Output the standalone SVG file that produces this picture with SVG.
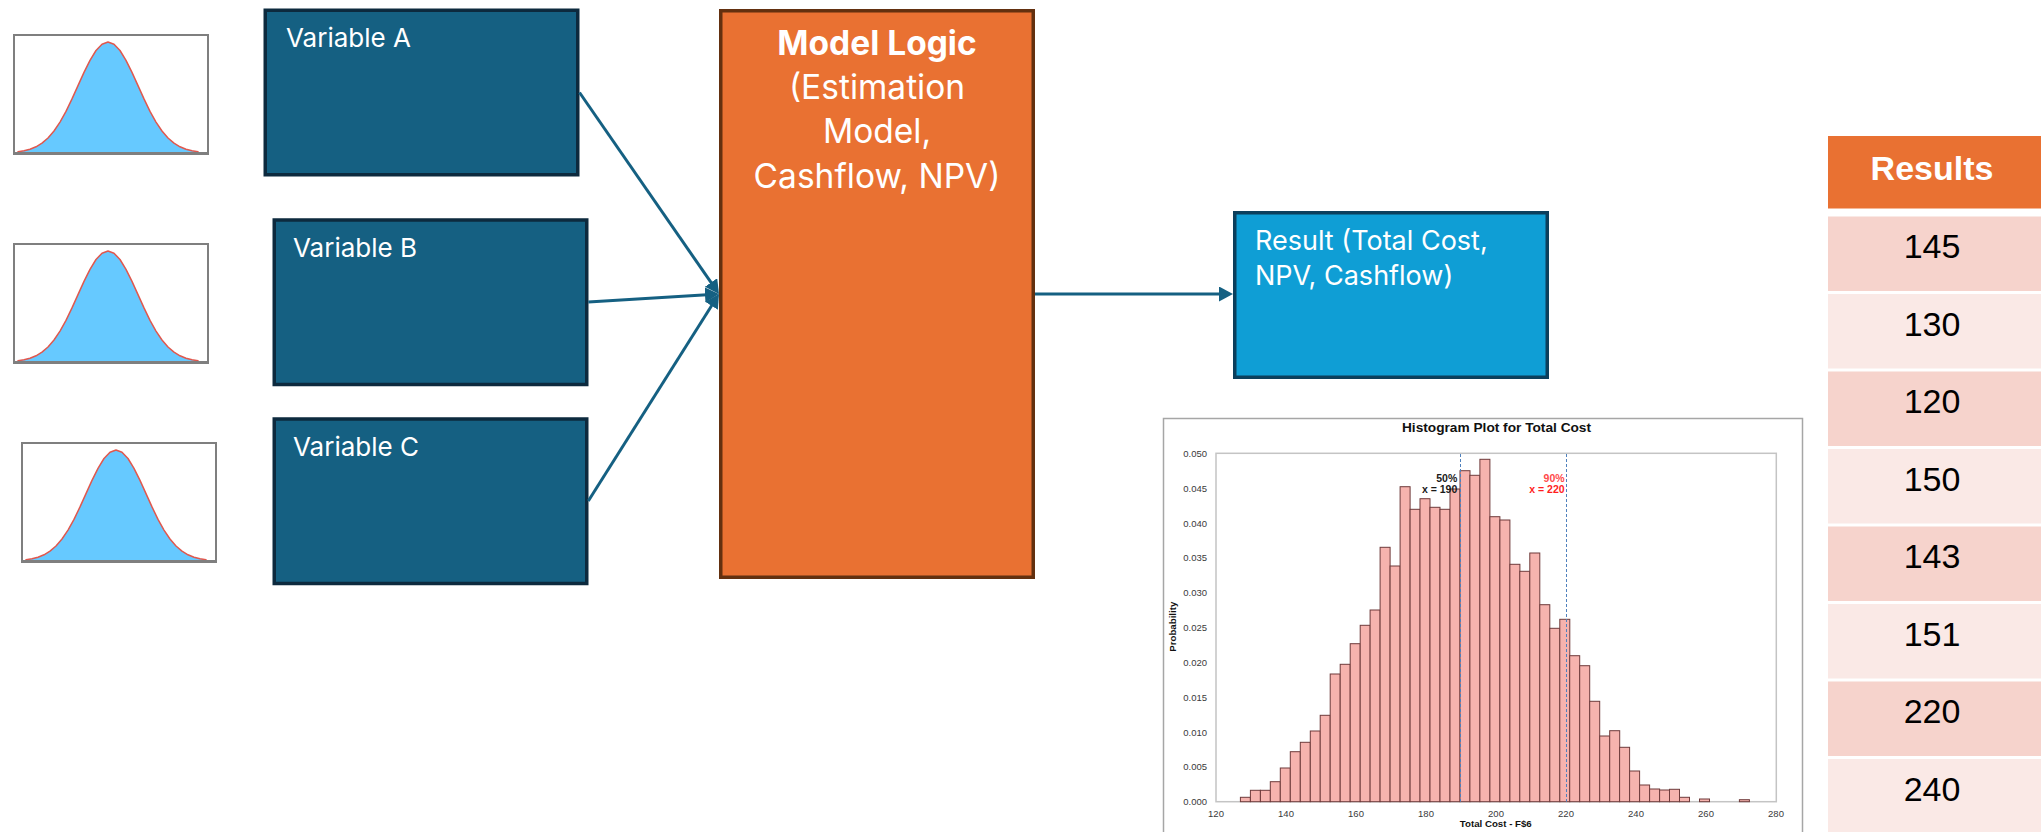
<svg xmlns="http://www.w3.org/2000/svg" xmlns:xlink="http://www.w3.org/1999/xlink" width="2041" height="832" viewBox="0 0 2041 832">
  <style>
    .var { fill: #156082; stroke: #0d2a3e; stroke-width: 3.5; }
    .var-text { font-family: Inter, "Open Sans", sans-serif; font-size: 26px; fill: #ffffff; }
    .res-text { font-family: Inter, "Open Sans", sans-serif; font-size: 27px; fill: #ffffff; }
    .logic { fill: #e97132; stroke: #63300f; stroke-width: 3.5; }
    .logic-text { font-family: Inter, "Open Sans", sans-serif; font-size: 33.5px; fill: #ffffff; text-anchor: middle; }
    .result { fill: #0f9ed5; stroke: #0b3f5c; stroke-width: 3.5; }
    .conn { fill: none; stroke: #156082; stroke-width: 3; marker-end: url(#arrow); }
    .frame { fill: #ffffff; stroke: #a6a6a6; stroke-width: 1.5; }
    .plot { fill: #ffffff; stroke: #c4c4c4; stroke-width: 1.5; }
    .bar { fill: #f6b3ae; stroke: #6e3b3b; stroke-width: 1; }
    .tick { font-family: "Liberation Sans", Arial, sans-serif; font-size: 9.5px; fill: #3a3a3a; }
    .ytick { text-anchor: end; }
    .xtick { text-anchor: middle; }
    .axis-title { font-family: "Liberation Sans", Arial, sans-serif; font-size: 9.7px; font-weight: bold; fill: #111111; text-anchor: middle; }
    .pct { font-family: "Liberation Sans", Arial, sans-serif; font-size: 10.5px; font-weight: bold; text-anchor: end; }
    .pline { stroke: #4f81bd; stroke-width: 1; stroke-dasharray: 3 2; }
    .hdr { fill: #e97132; }
    .hdr-text { font-family: "Liberation Sans", Arial, sans-serif; font-size: 34px; font-weight: bold; fill: #ffffff; text-anchor: middle; }
    .row-a { fill: #f6d3cc; }
    .row-b { fill: #fae9e6; }
    .cell { font-family: "Liberation Sans", Arial, sans-serif; font-size: 34px; fill: #000000; text-anchor: middle; }
  </style>
  <defs>
    <marker id="arrow" markerUnits="userSpaceOnUse" markerWidth="16" markerHeight="16" refX="6" refY="7.5" orient="auto">
      <path d="M0,0 L14,7.5 L0,15 Z" fill="#156082"/>
    </marker>
    <!-- small normal-distribution thumbnail -->
    <g id="bell">
      <rect x="1" y="1" width="194" height="119" fill="#ffffff" stroke="#7f7f7f" stroke-width="2"/>
      <path d="M5,119 L5,117.8 L11,116.8 L17,115.2 L23,112.8 L29,109.1 L35,104 L41,97 L47,88.1 L53,77.4 L59,64.9 L65,51.6 L71,38.4 L77,26.3 L83,16.5 L89,10.2 L95,8 L101,10.2 L107,16.5 L113,26.3 L119,38.4 L125,51.6 L131,64.9 L137,77.4 L143,88.1 L149,97 L155,104 L161,109.1 L167,112.8 L173,115.2 L179,116.8 L185,117.8 L185,119 Z" fill="#66c9ff" stroke="#e0584e" stroke-width="1.5" stroke-linejoin="round"/>
      <line x1="1" y1="119" x2="195" y2="119" stroke="#7f7f7f" stroke-width="2"/>
    </g>
  </defs>

  <rect width="2041" height="832" fill="#ffffff"/>

  <!-- distribution thumbnails -->
  <g id="dist-a"><use xlink:href="#bell" href="#bell" x="13" y="34"/></g>
  <g id="dist-b"><use xlink:href="#bell" href="#bell" x="13" y="243"/></g>
  <g id="dist-c"><use xlink:href="#bell" href="#bell" x="21" y="442"/></g>

  <!-- input variables -->
  <g id="variable-a">
    <rect class="var" x="265.25" y="10.25" width="312.5" height="164.5"/>
    <text class="var-text" x="286" y="47">Variable A</text>
  </g>
  <g id="variable-b">
    <rect class="var" x="274.25" y="220" width="312.5" height="164.5"/>
    <text class="var-text" x="293" y="257">Variable B</text>
  </g>
  <g id="variable-c">
    <rect class="var" x="274.25" y="419" width="312.5" height="164.5"/>
    <text class="var-text" x="293" y="456">Variable C</text>
  </g>

  <!-- model logic -->
  <g id="model-logic">
    <rect class="logic" x="720.75" y="10.75" width="312.5" height="566.5"/>
    <text class="logic-text" x="877" y="55" font-weight="bold">Model Logic</text>
    <text class="logic-text" x="877" y="99">(Estimation</text>
    <text class="logic-text" x="877" y="143">Model,</text>
    <text class="logic-text" x="877" y="188">Cashflow, NPV)</text>
  </g>

  <!-- result -->
  <g id="result">
    <rect class="result" x="1234.75" y="212.75" width="312.5" height="164.5"/>
    <text class="res-text" x="1255" y="250">Result (Total Cost,</text>
    <text class="res-text" x="1255" y="285">NPV, Cashflow)</text>
  </g>

  <!-- connectors -->
  <g id="connectors">
    <line class="conn" x1="579.5" y1="92.5" x2="714.45" y2="287.42"/>
    <line class="conn" x1="588.3" y1="302" x2="711" y2="294.49"/>
    <line class="conn" x1="588.3" y1="501" x2="714.73" y2="300.77"/>
    <line class="conn" x1="1035" y1="294" x2="1225" y2="294"/>
  </g>

  <!-- histogram of simulated totals -->
  <g id="histogram">
    <rect class="frame" x="1163.5" y="418.5" width="639" height="420"/>
    <text x="1496.5" y="431.7" font-family="'Liberation Sans', Arial, sans-serif" font-size="13.7" font-weight="bold" fill="#111111" text-anchor="middle">Histogram Plot for Total Cost</text>
    <rect class="plot" x="1216" y="453.3" width="560.3" height="348.4"/>

    <g id="bars">
      <rect class="bar" x="1240.4" y="797.3" width="10" height="4.4"/>
      <rect class="bar" x="1250.4" y="790.3" width="10" height="11.4"/>
      <rect class="bar" x="1260.4" y="790.3" width="10" height="11.4"/>
      <rect class="bar" x="1270.3" y="781.7" width="10" height="20"/>
      <rect class="bar" x="1280.3" y="768" width="10" height="33.7"/>
      <rect class="bar" x="1290.3" y="751.7" width="10" height="50"/>
      <rect class="bar" x="1300.3" y="742.3" width="10" height="59.4"/>
      <rect class="bar" x="1310.3" y="731" width="10" height="70.7"/>
      <rect class="bar" x="1320.2" y="715.3" width="10" height="86.4"/>
      <rect class="bar" x="1330.2" y="674" width="10" height="127.7"/>
      <rect class="bar" x="1340.2" y="664.3" width="10" height="137.4"/>
      <rect class="bar" x="1350.2" y="643.7" width="10" height="158"/>
      <rect class="bar" x="1360.2" y="625.3" width="10" height="176.4"/>
      <rect class="bar" x="1370.1" y="610" width="10" height="191.7"/>
      <rect class="bar" x="1380.1" y="547.3" width="10" height="254.4"/>
      <rect class="bar" x="1390.1" y="566" width="10" height="235.7"/>
      <rect class="bar" x="1400.1" y="486.7" width="10" height="315"/>
      <rect class="bar" x="1410.1" y="509.3" width="10" height="292.4"/>
      <rect class="bar" x="1420" y="498.7" width="10" height="303"/>
      <rect class="bar" x="1430" y="507.3" width="10" height="294.4"/>
      <rect class="bar" x="1440" y="509.3" width="10" height="292.4"/>
      <rect class="bar" x="1450" y="489" width="10" height="312.7"/>
      <rect class="bar" x="1460" y="470.7" width="10" height="331"/>
      <rect class="bar" x="1469.9" y="475.3" width="10" height="326.4"/>
      <rect class="bar" x="1479.9" y="459.3" width="10" height="342.4"/>
      <rect class="bar" x="1489.9" y="516.7" width="10" height="285"/>
      <rect class="bar" x="1499.9" y="520" width="10" height="281.7"/>
      <rect class="bar" x="1509.9" y="564.3" width="10" height="237.4"/>
      <rect class="bar" x="1519.8" y="571.3" width="10" height="230.4"/>
      <rect class="bar" x="1529.8" y="553" width="10" height="248.7"/>
      <rect class="bar" x="1539.8" y="604.7" width="10" height="197"/>
      <rect class="bar" x="1549.8" y="628.3" width="10" height="173.4"/>
      <rect class="bar" x="1559.8" y="619.3" width="10" height="182.4"/>
      <rect class="bar" x="1569.7" y="655.7" width="10" height="146"/>
      <rect class="bar" x="1579.7" y="665.7" width="10" height="136"/>
      <rect class="bar" x="1589.7" y="701.3" width="10" height="100.4"/>
      <rect class="bar" x="1599.7" y="736" width="10" height="65.7"/>
      <rect class="bar" x="1609.7" y="730.7" width="10" height="71"/>
      <rect class="bar" x="1619.6" y="747.3" width="10" height="54.4"/>
      <rect class="bar" x="1629.6" y="771" width="10" height="30.7"/>
      <rect class="bar" x="1639.6" y="785" width="10" height="16.7"/>
      <rect class="bar" x="1649.6" y="789" width="10" height="12.7"/>
      <rect class="bar" x="1659.6" y="790" width="10" height="11.7"/>
      <rect class="bar" x="1669.5" y="789.3" width="10" height="12.4"/>
      <rect class="bar" x="1679.5" y="797.3" width="10" height="4.4"/>
      <rect class="bar" x="1699.5" y="799" width="10" height="2.7"/>
      <rect class="bar" x="1739.4" y="799.7" width="10" height="2"/>
    </g>

    <line class="pline" x1="1460.5" y1="454" x2="1460.5" y2="801.7"/>
    <line class="pline" x1="1566.5" y1="454" x2="1566.5" y2="801.7"/>
    <text class="pct" x="1457.3" y="481.7" fill="#1a1a1a">50%</text>
    <text class="pct" x="1457.3" y="493.3" fill="#1a1a1a">x = 190</text>
    <text class="pct" x="1564.6" y="481.7" fill="#ff4a4a">90%</text>
    <text class="pct" x="1564.6" y="493.3" fill="#ff1e1e">x = 220</text>

    <g id="y-axis">
      <text class="tick ytick" x="1207" y="805.2">0.000</text>
      <text class="tick ytick" x="1207" y="770.4">0.005</text>
      <text class="tick ytick" x="1207" y="735.5">0.010</text>
      <text class="tick ytick" x="1207" y="700.7">0.015</text>
      <text class="tick ytick" x="1207" y="665.8">0.020</text>
      <text class="tick ytick" x="1207" y="631">0.025</text>
      <text class="tick ytick" x="1207" y="596.2">0.030</text>
      <text class="tick ytick" x="1207" y="561.3">0.035</text>
      <text class="tick ytick" x="1207" y="526.5">0.040</text>
      <text class="tick ytick" x="1207" y="491.6">0.045</text>
      <text class="tick ytick" x="1207" y="456.8">0.050</text>
      <text class="axis-title" x="1176" y="626.7" transform="rotate(-90 1176 626.7)">Probability</text>
    </g>
    <g id="x-axis">
      <text class="tick xtick" x="1216" y="816.7">120</text>
      <text class="tick xtick" x="1286" y="816.7">140</text>
      <text class="tick xtick" x="1356" y="816.7">160</text>
      <text class="tick xtick" x="1426" y="816.7">180</text>
      <text class="tick xtick" x="1496" y="816.7">200</text>
      <text class="tick xtick" x="1566" y="816.7">220</text>
      <text class="tick xtick" x="1636" y="816.7">240</text>
      <text class="tick xtick" x="1706" y="816.7">260</text>
      <text class="tick xtick" x="1776" y="816.7">280</text>
      <text class="axis-title" x="1495.8" y="826.7">Total Cost - F$6</text>
    </g>
  </g>

  <!-- results table -->
  <g id="results-table">
    <rect class="hdr" x="1828" y="136" width="213" height="72.5"/>
    <text class="hdr-text" x="1932" y="179.5">Results</text>
    <rect class="row-a" x="1828" y="216.5" width="213" height="74.5"/>
    <text class="cell" x="1932" y="258">145</text>
    <rect class="row-b" x="1828" y="294" width="213" height="74.5"/>
    <text class="cell" x="1932" y="335.5">130</text>
    <rect class="row-a" x="1828" y="371.5" width="213" height="74.5"/>
    <text class="cell" x="1932" y="413">120</text>
    <rect class="row-b" x="1828" y="449" width="213" height="74.5"/>
    <text class="cell" x="1932" y="490.5">150</text>
    <rect class="row-a" x="1828" y="526.5" width="213" height="74.5"/>
    <text class="cell" x="1932" y="568">143</text>
    <rect class="row-b" x="1828" y="604" width="213" height="74.5"/>
    <text class="cell" x="1932" y="645.5">151</text>
    <rect class="row-a" x="1828" y="681.5" width="213" height="74.5"/>
    <text class="cell" x="1932" y="723">220</text>
    <rect class="row-b" x="1828" y="759" width="213" height="74.5"/>
    <text class="cell" x="1932" y="800.5">240</text>
  </g>
</svg>
